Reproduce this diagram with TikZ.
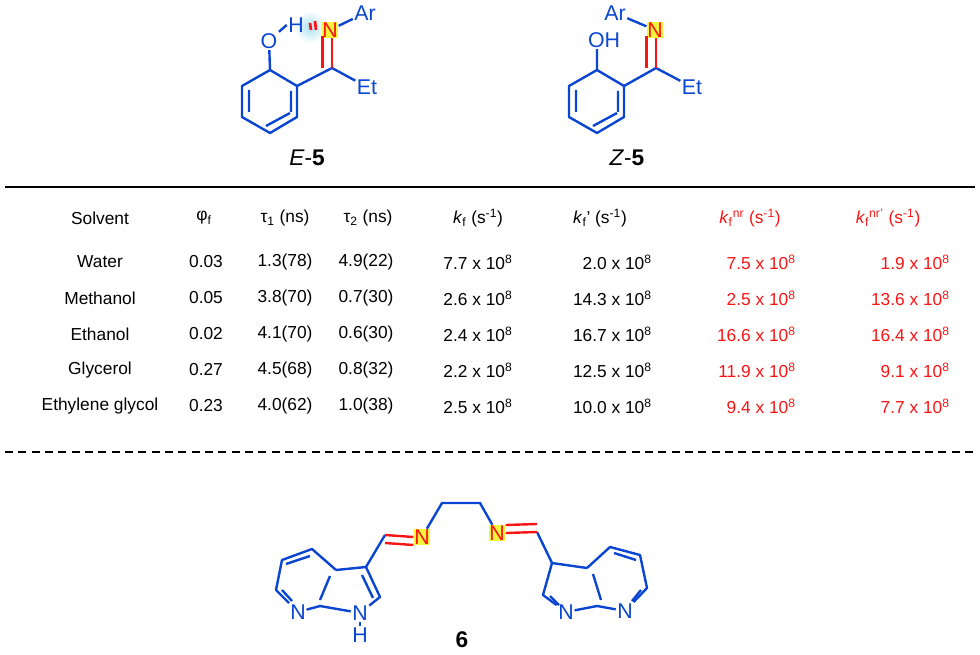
\documentclass[tikz,border=0pt]{standalone}
\usepackage{fontspec}
\setmainfont{Liberation Sans}
\definecolor{cb}{RGB}{10,70,210}
\definecolor{cr}{RGB}{250,20,20}
\definecolor{hl}{RGB}{245,245,60}
\definecolor{glow}{RGB}{170,225,240}
\begin{document}
\begin{tikzpicture}[x=0.75pt,y=-0.75pt,
  bond/.style={cb,line width=1.8pt},
  dbl/.style={cr,line width=1.8pt},
  atm/.style={text=cb,inner sep=1pt,font=\fontsize{16}{18}\selectfont},
  atn/.style={text=cr,fill=hl,inner sep=0.5pt,font=\fontsize{16}{18}\selectfont},
  cell/.style={font=\fontsize{13}{15}\selectfont,inner sep=0pt},
  rcell/.style={cell,text=cr},
  lab/.style={font=\fontsize{17}{19}\selectfont}]
\useasboundingbox (0,0) rectangle (980,655);
% ---------- E-5 ----------
\shade[inner color=glow,outer color=white] (310,27) circle (16);
\coordinate (ea) at (270,70); \coordinate (eb) at (297,86); \coordinate (ec) at (297,117);
\coordinate (ed) at (270,133); \coordinate (ee) at (242,117); \coordinate (ef) at (242,86);
\draw[bond,line join=round] (ea)--(eb)--(ec)--(ed)--(ee)--(ef)--cycle;
\draw[bond] (291,91)--(291,112) (266,126)--(290,113) (249,90)--(249,112);
\node[atm] (eO) at (269,41) {O};
\node[atm] (eH) at (296,25) {H};
\node[atn] (eN) at (330,30) {N};
\node[atm] (eAr) at (365,13) {Ar};
\node[atm] (eEt) at (367,87) {Et};
\coordinate (eC) at (332,68);
\draw[bond] (ea)--(eO) (eO.north east)--(eH.west) (eN)--(eAr) (eb)--(eC)--(eEt);
\draw[dbl] (eC)--(eC|-eN.south) ([xshift=-7]eC)--([xshift=-7,yshift=2]eC|-eN.south);
\draw[cr,line width=2pt] (310,23)--(311,30) (315,21)--(316,30);
\node[lab] (eLab) at (307,158) {\textit{E}-\textbf{5}};
% ---------- Z-5 ----------
\coordinate (za) at (597,70); \coordinate (zb) at (624,86); \coordinate (zc) at (624,117);
\coordinate (zd) at (597,133); \coordinate (ze) at (569,117); \coordinate (zf) at (569,86);
\draw[bond,line join=round] (za)--(zb)--(zc)--(zd)--(ze)--(zf)--cycle;
\draw[bond] (618,91)--(618,112) (593,126)--(617,113) (576,90)--(576,112);
\node[atm] (zO) at (604,40) {OH};
\node[atn] (zN) at (655,30) {N};
\node[atm] (zAr) at (615,13) {Ar};
\node[atm] (zEt) at (692,87) {Et};
\coordinate (zC) at (656,68);
\draw[bond] (za)--(za|-zO.south) (zN)--(zAr) (zb)--(zC)--(zEt);
\draw[dbl] (zC)--(zC|-zN.south) ([xshift=-7]zC)--([xshift=-7,yshift=2]zC|-zN.south);
\node[lab] (zLab) at (627,158) {\textit{Z}-\textbf{5}};
% ---------- table ----------
\coordinate (tl) at (5,187); \coordinate (tr) at (975,187);
\draw[line width=1pt] (tl)--(tr);
\coordinate (dl) at (5,452); \coordinate (dr) at (975,452);
\draw[line width=1.2pt,dash pattern=on 6pt off 4pt] (dl)--(dr);
\foreach \x/\t [count=\i] in {100/Solvent,204/{φ\textsubscript{f}},285/{τ\textsubscript{1} (ns)},368/{τ\textsubscript{2} (ns)},478/{\textit{k}\textsubscript{f} (s\textsuperscript{-1})},600/{\textit{k}\textsubscript{f}’ (s\textsuperscript{-1})}}
  \node[cell] (h\i) at (\x,218) {\t};
\node[rcell] (h7) at (750,218) {\textit{k}\textsubscript{f}\textsuperscript{nr} (s\textsuperscript{-1})};
\node[rcell] (h8) at (888,218) {\textit{k}\textsubscript{f}\textsuperscript{nr’} (s\textsuperscript{-1})};
\foreach \y/\s/\p/\a/\b/\c/\d/\e/\f in {
 262/Water/0.03/1.3(78)/4.9(22)/7.7/2.0/7.5/1.9,
 298/Methanol/0.05/3.8(70)/0.7(30)/2.6/14.3/2.5/13.6,
 334/Ethanol/0.02/4.1(70)/0.6(30)/2.4/16.7/16.6/16.4,
 370/Glycerol/0.27/4.5(68)/0.8(32)/2.2/12.5/11.9/9.1,
 406/Ethylene glycol/0.23/4.0(62)/1.0(38)/2.5/10.0/9.4/7.7}{
 \node[cell] (s\y) at (100,\y) {\s};
 \node[cell] (p\y) at (206,\y) {\p};
 \node[cell] (a\y) at (285,\y) {\a};
 \node[cell] (b\y) at (366,\y) {\b};
 \node[cell] (c\y) at (478,\y) {\c{} x 10\textsuperscript{8}};
 \node[cell,anchor=east] (d\y) at (652,\y) {\d{} x 10\textsuperscript{8}};
 \node[rcell,anchor=east] (e\y) at (796,\y) {\e{} x 10\textsuperscript{8}};
 \node[rcell,anchor=east] (f\y) at (950,\y) {\f{} x 10\textsuperscript{8}};
}
% ---------- compound 6 ----------
\coordinate (l4) at (282,560); \coordinate (l5) at (276,590);
\coordinate (l3) at (312,549); \coordinate (l3a) at (336,570);
\coordinate (l7a) at (320,606); \node[atm] (lN7) at (298,612) {N};
\coordinate (l3c) at (366,567); \coordinate (l2) at (380,597);
\node[atm] (lN1) at (360,613) {N}; \node[atm] (lH) at (360,635) {H};
\draw[bond,line join=round] (l3a)--(l3)--(l4)--(l5)--(lN7)--(l7a)--cycle;
\draw[bond,line join=round] (l3a)--(l3c)--(l2)--(lN1)--(l7a);
\draw[bond] (lN1)--(lH);
\draw[bond] (286,564)--(310,556) (282,590)--(292,601) (330,576)--(320,600) (362,575)--(373,598);
\coordinate (lch) at (385,535);
\node[atn] (mN1) at (422,537) {N};
\node[atn] (mN2) at (497,533) {N};
\coordinate (m1) at (442,503); \coordinate (m2) at (480,503);
\coordinate (rch) at (537,532);
\draw[bond] (l3c)--(lch) (mN1)--(m1)--(m2)--(mN2) (rch)--(552,563);
\draw[dbl] (lch)--(mN1.west) ([yshift=-6]lch)--([yshift=-6]mN1.west);
\draw[dbl] (rch)--(mN2.east) ([yshift=6]rch)--([yshift=6]mN2.east);
\coordinate (r3) at (552,563); \coordinate (r3a) at (587,568); \coordinate (r7a) at (597,606);
\node[atm] (rN1) at (566,612) {N}; \coordinate (r2) at (543,595);
\coordinate (r4) at (610,547); \coordinate (r5) at (640,555); \coordinate (r6) at (647,588);
\node[atm] (rN7) at (625,611) {N};
\draw[bond,line join=round] (r3a)--(r3)--(r2)--(rN1)--(r7a)--cycle;
\draw[bond,line join=round] (r3a)--(r4)--(r5)--(r6)--(rN7)--(r7a);
\draw[bond] (593,574)--(601,600) (614,553)--(636,560) (641,590)--(632,601) (550,596)--(559,605);
\node[lab] (l6) at (462,640) {\textbf{6}};
\end{tikzpicture}
\end{document}
